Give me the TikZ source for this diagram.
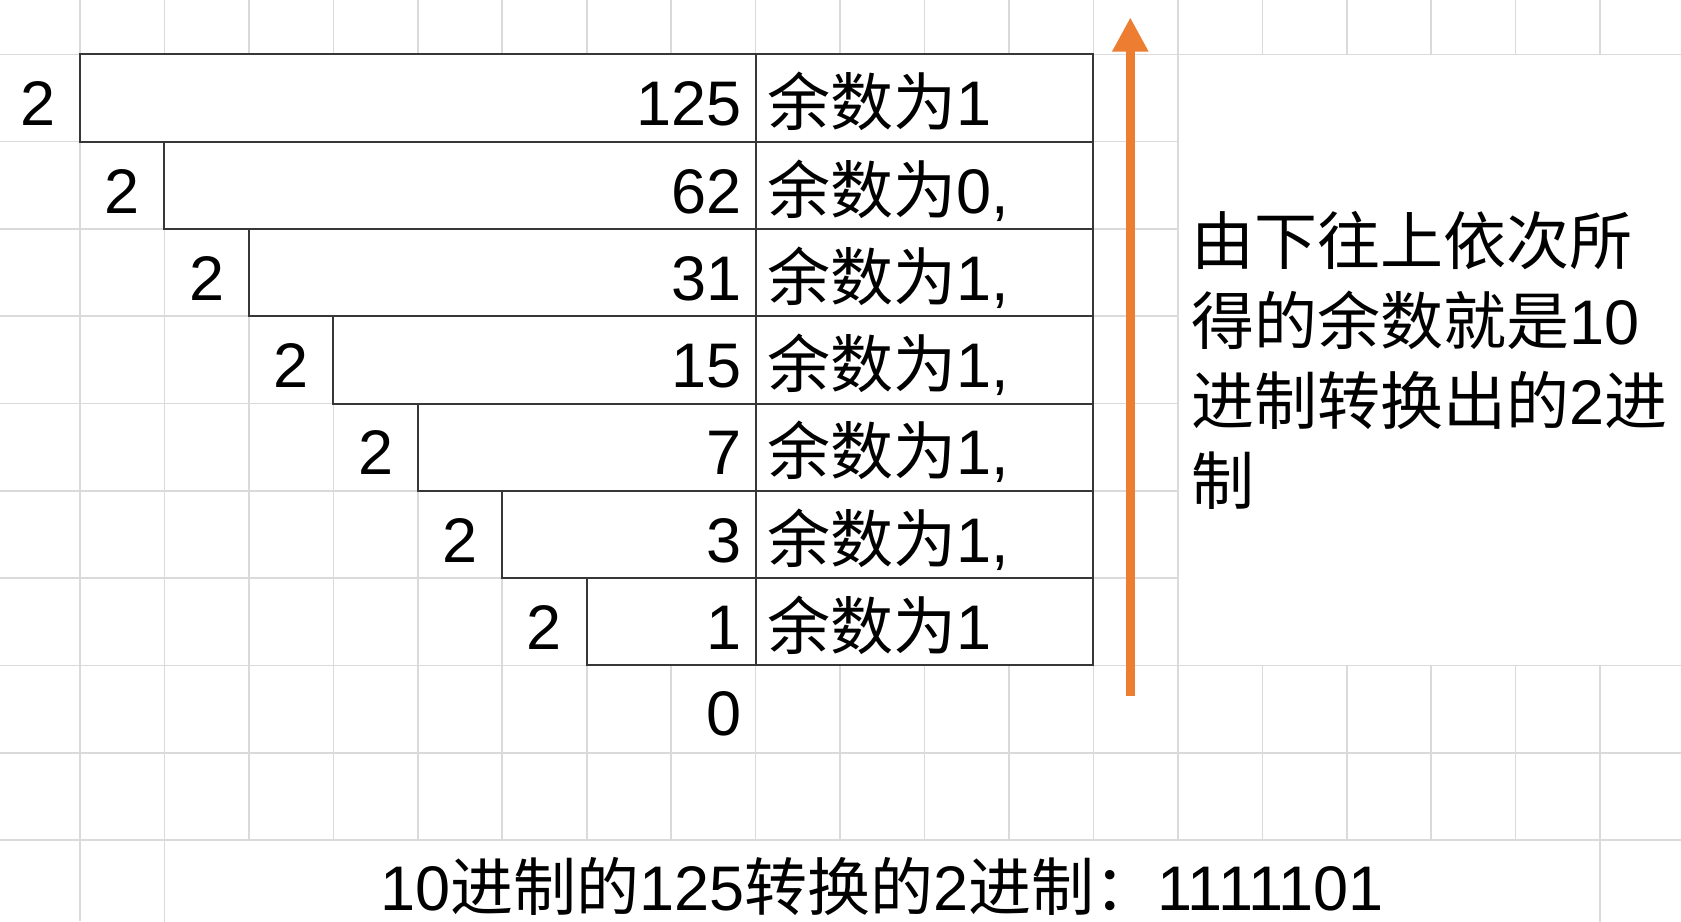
\documentclass[tikz,border=0pt]{standalone}
\usepackage{fontspec}
\setmainfont{Liberation Sans}
\newfontfamily\cjk{Noto Sans CJK SC}
\usetikzlibrary{arrows.meta}
\definecolor{gridgray}{RGB}{218,218,218}
\definecolor{tableline}{RGB}{55,55,55}
\definecolor{arroworange}{RGB}{237,125,49}
\begin{document}
\begin{tikzpicture}[x=1pt,y=-1pt,
  gridline/.style={draw=gridgray,line width=1.6pt},
  tablebox/.style={draw=tableline,line width=2pt},
  txt/.style={inner sep=0pt,outer sep=0pt,font=\fontsize{63pt}{80pt}\selectfont},
  upflow/.style={draw=arroworange,line width=8.7pt,-{Triangle[width=34pt,length=34.4pt]}}]
\useasboundingbox (0,0) rectangle (1681,921);
\fill[white] (0,0) rectangle (1681,921);
% sheet grid
\foreach \k in {0,...,18} \draw[gridline] ({80+84.45*\k},0) -- ({80+84.45*\k},921);
\foreach \j in {0,...,9} \draw[gridline] (0,{54.3+87.3*\j}) -- (1681,{54.3+87.3*\j});
% merged cells
\draw[gridline,fill=white] (1177.85,54.3) rectangle (1700,665.4);
\draw[gridline,fill=white] (164.45,840) rectangle (1600.1,940);
% division table
\foreach \i in {0,...,6} \fill[white] ({80+84.45*\i},{54.3+87.3*\i}) rectangle (1093.4,{54.3+87.3*(\i+1)});
\foreach \i in {0,...,6} \draw[tablebox] ({80+84.45*\i},{54.3+87.3*\i}) rectangle (1093.4,{54.3+87.3*(\i+1)});
\draw[tablebox] (755.6,54.3) -- (755.6,665.4);
% texts
\foreach \i/\v/\r in {0/125/1,1/62/{0,},2/31/{1,},3/15/{1,},4/7/{1,},5/3/{1,},6/1/1}{
  \node[txt,anchor=base] (two\i) at ({80+84.45*(\i-1)+42.2},{54.3+87.3*\i+71.4}) {2};
  \node[txt,anchor=base east] (val\i) at ({755.6-14},{54.3+87.3*\i+71.4}) {\v};
  \node[txt,anchor=base west] (rem\i) at ({755.6+12},{54.3+87.3*\i+71.4}) {{\cjk 余数为}\r};
}
\node[txt,anchor=base east] (zero) at ({755.6-14},735) {0};
\node[txt,anchor=base west] (note1) at (1191,264) {\cjk 由下往上依次所};
\node[txt,anchor=base west] (note2) at (1191,344) {{\cjk 得的余数就是}10};
\node[txt,anchor=base west] (note3) at (1191,424) {{\cjk 进制转换出的}2{\cjk 进}};
\node[txt,anchor=base west] (note4) at (1191,504) {\cjk 制};
\node[txt,anchor=base] (result) at (882,910) {10{\cjk 进制的}125{\cjk 转换的}2{\cjk 进制：}1111101};
% arrow
\coordinate (arrowfrom) at (1130.3,696);
\coordinate (arrowto) at (1130.3,17.3);
\draw[upflow] (arrowfrom) -- (arrowto);
\end{tikzpicture}
\end{document}
